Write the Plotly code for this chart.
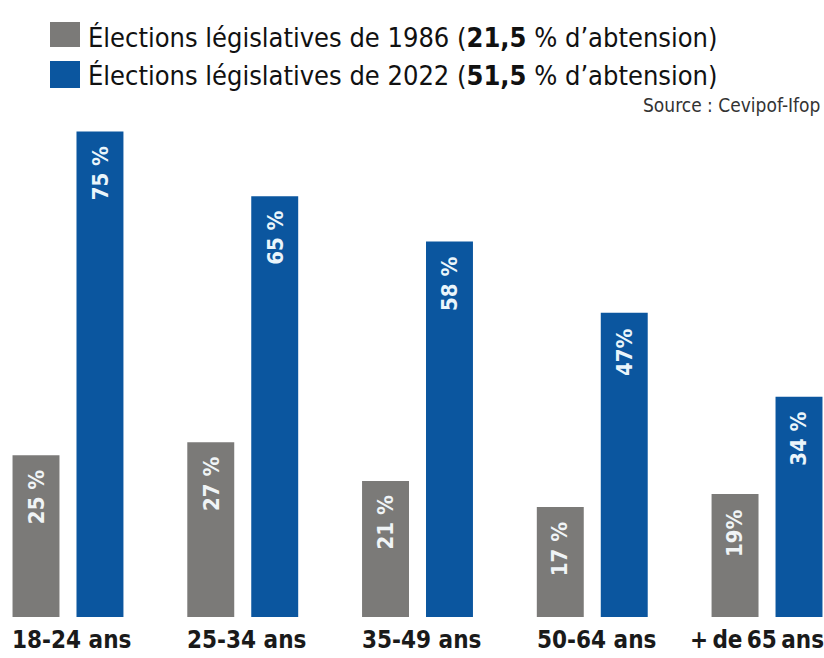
import plotly.graph_objects as go

categories = ["18-24 ans", "25-34 ans", "35-49 ans", "50-64 ans", "+ de 65 ans"]
tick_labels = ["18-24 ans", "25-34 ans", "35-49 ans", "50-64 ans", "+\u2009de\u200965\u2009ans"]
values_1986 = [25, 27, 21, 17, 19]
values_2022 = [75, 65, 58, 47, 34]
labels_1986 = ["25 %", "27 %", "21 %", "17 %", "19%"]
labels_2022 = ["75 %", "65 %", "58 %", "47%", "34 %"]
series_names = ["Élections législatives de 1986 (<b>21,5</b> % d’abtension)",
                "Élections législatives de 2022 (<b>51,5</b> % d’abtension)"]
source_text = "Source : Cevipof-Ifop"

GRAY = "#7b7a78"
BLUE = "#0b569f"
FONT = "Liberation Sans Narrow, Arial Narrow, DejaVu Sans Condensed, sans-serif"

W, H = 824, 658
MT, MB = 99, 41
PH = H - MT - MB

def py(p):
    return (H - MB - p) / PH

fig = go.Figure()
fig.add_trace(go.Bar(x=categories, y=values_1986, marker_color=GRAY,
                     marker_line_width=0, name="1986", hoverinfo="skip"))
fig.add_trace(go.Bar(x=categories, y=values_2022, marker_color=BLUE,
                     marker_line_width=0, name="2022", hoverinfo="skip"))

BARGAP = 0.268
off = (1 - BARGAP) / 4
annotations = []
for i, (v, t) in enumerate(zip(values_1986, labels_1986)):
    annotations.append(dict(x=i - off, y=v, xref="x", yref="y", text=f"<b>{t}</b>",
                            textangle=-90, showarrow=False, yanchor="top", yshift=-13,
                            font=dict(family=FONT, size=22, color="#f0f4f6")))
for i, (v, t) in enumerate(zip(values_2022, labels_2022)):
    annotations.append(dict(x=i + off, y=v, xref="x", yref="y", text=f"<b>{t}</b>",
                            textangle=-90, showarrow=False, yanchor="top", yshift=-13,
                            font=dict(family=FONT, size=22, color="#eaf5fb")))

# category labels below the bars
for i, lab in enumerate(tick_labels):
    last = i == len(tick_labels) - 1
    annotations.append(dict(x=i, y=0, xref="x", yref="y", text=f"<b>{lab}</b>",
                            showarrow=False, yanchor="middle", yshift=-23, borderpad=0,
                            xshift=-10 if last else 4,
                            font=dict(family=FONT, size=24, color="#1a1a1a")))

# legend (manual)
shapes = [
    dict(type="rect", xref="paper", yref="paper", x0=50 / W, x1=80 / W, y0=py(47), y1=py(22),
         fillcolor=GRAY, line_width=0),
    dict(type="rect", xref="paper", yref="paper", x0=50 / W, x1=80 / W, y0=py(88), y1=py(61),
         fillcolor=BLUE, line_width=0),
]
annotations.append(dict(x=86 / W, y=py(37), xref="paper", yref="paper", text=series_names[0],
                        showarrow=False, xanchor="left", yanchor="middle",
                        font=dict(family=FONT, size=27, color="#111111")))
annotations.append(dict(x=86 / W, y=py(76), xref="paper", yref="paper", text=series_names[1],
                        showarrow=False, xanchor="left", yanchor="middle",
                        font=dict(family=FONT, size=27, color="#111111")))
annotations.append(dict(x=822 / W, y=py(105), xref="paper", yref="paper", text=source_text,
                        showarrow=False, xanchor="right", yanchor="middle",
                        font=dict(family=FONT, size=19, color="#333333")))

fig.update_layout(
    width=W, height=H,
    margin=dict(l=0, r=0, t=MT, b=MB, pad=0, autoexpand=False),
    paper_bgcolor="white", plot_bgcolor="white",
    barmode="group", bargap=BARGAP, bargroupgap=0.266,
    showlegend=False,
    shapes=shapes, annotations=annotations,
    xaxis=dict(range=[-0.389, 4.326], showgrid=False, zeroline=False, showline=False,
               automargin=False, showticklabels=False, ticks=""),
    yaxis=dict(range=[0, 80], visible=False, showgrid=False, zeroline=False, automargin=False),
)

fig.write_html("out.html")
